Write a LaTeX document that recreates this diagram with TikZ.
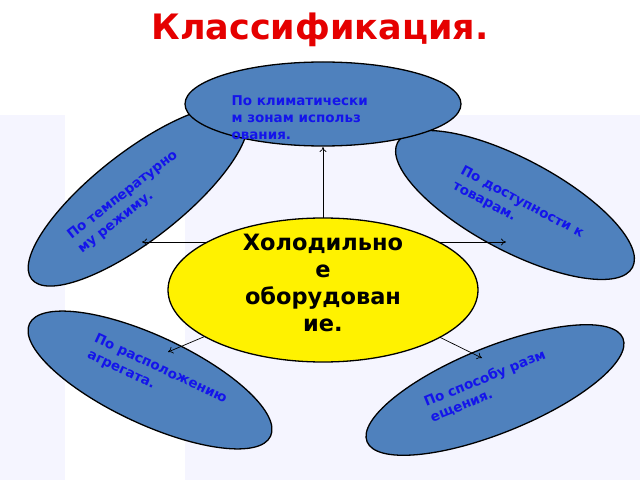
\documentclass[tikz,border=0pt]{standalone}
\usepackage{fontspec}
\setmainfont{DejaVu Sans}
\usetikzlibrary{shapes.geometric,arrows.meta}
\definecolor{ebl}{RGB}{79,129,189}
\definecolor{txb}{RGB}{20,20,235}
\begin{document}
\begin{tikzpicture}[x=1pt,y=1pt,
  oval/.style={ellipse,draw=black,line width=1.3pt,fill=ebl,inner sep=0pt},
  lbl/.style={font=\bfseries\fontsize{13.5}{17}\selectfont,text=txb,align=left},
  arr/.style={-{To[length=5pt,width=7pt]},line width=0.7pt}]
\useasboundingbox (0,0) rectangle (640,480);
\fill[white] (0,0) rectangle (640,480);
\fill[blue!4] (0,0) rectangle (65,365);
\fill[blue!4] (185,0) rectangle (640,365);
\node[font=\bfseries\fontsize{35}{38}\selectfont,text=red!90!black] (title) at (320,450) {Классификация.};
\node[oval,minimum width=270,minimum height=88,rotate=38] (tl) at (138,284) {};
\node[oval,minimum width=266,minimum height=92,rotate=-28] (tr) at (515,275) {};
\node[oval,minimum width=266,minimum height=88,rotate=-25] (bl) at (150,100) {};
\node[oval,minimum width=276,minimum height=86,rotate=22] (br) at (495,90) {};
\node[oval,minimum width=276,minimum height=84] (top) at (323,376) {};
\coordinate (a1) at (323,333);
\coordinate (a2) at (142,238);
\coordinate (a3) at (506,238);
\coordinate (a4) at (168,128);
\coordinate (a5) at (482,122);
\coordinate (s2) at (230,238);
\coordinate (s3) at (416,238);
\coordinate (s4) at (220,150);
\coordinate (s5) at (425,150);
\draw[arr] (323,200) -- (a1);
\draw[arr] (s2) -- (a2);
\draw[arr] (s3) -- (a3);
\draw[arr] (s4) -- (a4);
\draw[arr] (s5) -- (a5);
\node[ellipse,draw=black,line width=1.3pt,fill=yellow,minimum width=310,minimum height=144,inner sep=0pt] (c) at (323,190) {};
\node[font=\bfseries\fontsize{22.5}{27}\selectfont,align=center] (ct) at (323,197) {Холодильно\\е\\оборудован\\ие.};
\node[lbl,anchor=north west] (tt) at (228,388) {По климатически\\м зонам использ\\ования.};
\node[lbl,rotate=38] (tlt) at (128,278) {По температурно\\му режиму.};
\node[lbl,rotate=-28] (trt) at (518,270) {По доступности к\\товарам.};
\node[lbl,rotate=-25] (blt) at (157,103) {По расположению\\агрегата.};
\node[lbl,rotate=22] (brt) at (488,94) {По способу разм\\ещения.};
\end{tikzpicture}
\end{document}
